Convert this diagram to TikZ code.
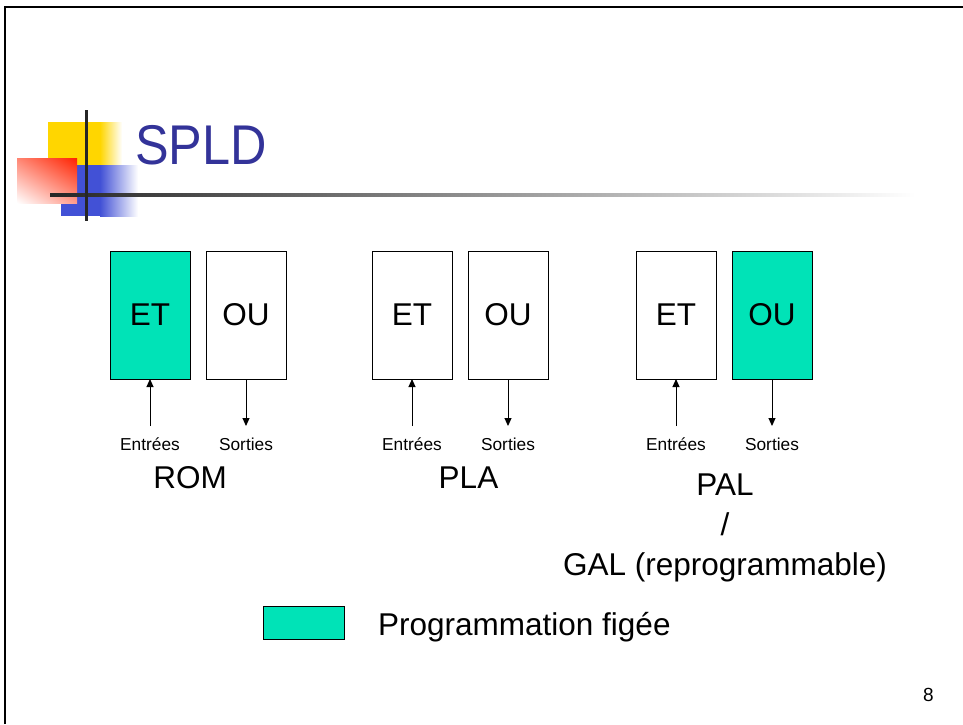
\documentclass[tikz,border=0pt]{standalone}
\usepackage{fontspec}
\setmainfont{Liberation Sans}
\usetikzlibrary{arrows.meta,shadings}

\definecolor{figee}{HTML}{00E3B7}
\definecolor{titleblue}{HTML}{333399}
\definecolor{logoyellow}{HTML}{FFD600}
\definecolor{logoblue}{HTML}{4251D6}
\definecolor{logored}{HTML}{FF2200}

\tikzset{
  gate/.style={draw, line width=1pt, minimum width=80pt, minimum height=128pt,
    inner sep=0pt, outer sep=0pt, font=\fontsize{31.5}{36}\selectfont},
  fixed/.style={gate, fill=figee},
  iolabel/.style={inner sep=0pt, anchor=base, font=\fontsize{17.3}{20}\selectfont},
  devlabel/.style={inner sep=0pt, anchor=base, font=\fontsize{31.5}{40}\selectfont},
  sig/.style={line width=1pt, -{Triangle[width=7pt,length=8pt]}},
}

\begin{document}
\begin{tikzpicture}[x=1pt,y=-1pt]
\useasboundingbox (0,0) rectangle (963,724);

% slide frame
\draw[line width=2.2pt] (5.2,724) -- (5.2,6.7) -- (963,6.7);

% title logo
\fill[logoyellow] (48,122) rectangle (100,167);
\shade[left color=logoyellow, right color=white] (100,122) rectangle (122,167);
\fill[logoblue] (61,165) rectangle (100,216);
\shade[left color=logoblue, right color=white] (100,165) rectangle (138,216);
\shade[upper right=logored, upper left=logored!55!white,
       lower right=logored!45!white, lower left=white] (17,158) rectangle (77,203);
\shade[left color=black!85, right color=white] (50,193.5) rectangle (915,196.5);
\fill[black!85] (84.5,110) rectangle (88,221);

% title
\node[inner sep=0pt, anchor=base west, text=titleblue, xscale=0.9,
      font=\fontsize{56}{60}\selectfont] (title) at (135,164) {SPLD};

% ROM
\node[fixed] (romET) at (150,315) {ET};
\node[gate]  (romOU) at (246,315) {OU};
\coordinate (romIn)  at (150,426);
\coordinate (romOut) at (246,426);
\draw[sig] (romIn) -- (romET.south);
\draw[sig] (romOU.south) -- (romOut);
\node[iolabel] (romInL)  at (150,450) {Entrées};
\node[iolabel] (romOutL) at (246,450) {Sorties};
\node[devlabel] (rom) at (190,488) {ROM};

% PLA
\node[gate] (plaET) at (412,315) {ET};
\node[gate] (plaOU) at (508,315) {OU};
\coordinate (plaIn)  at (412,426);
\coordinate (plaOut) at (508,426);
\draw[sig] (plaIn) -- (plaET.south);
\draw[sig] (plaOU.south) -- (plaOut);
\node[iolabel] (plaInL)  at (412,450) {Entrées};
\node[iolabel] (plaOutL) at (508,450) {Sorties};
\node[devlabel] (pla) at (468.5,488) {PLA};

% PAL / GAL
\node[gate]  (palET) at (676,315) {ET};
\node[fixed] (palOU) at (772,315) {OU};
\coordinate (palIn)  at (676,426);
\coordinate (palOut) at (772,426);
\draw[sig] (palIn) -- (palET.south);
\draw[sig] (palOU.south) -- (palOut);
\node[iolabel] (palInL)  at (676,450) {Entrées};
\node[iolabel] (palOutL) at (772,450) {Sorties};
\node[devlabel, align=center] (pal) at (725,575) {PAL\\/\\GAL (reprogrammable)};

% legend
\node[draw, fill=figee, line width=0.8pt, minimum width=81pt, minimum height=33pt,
      inner sep=0pt] (legendbox) at (303.5,622.5) {};
\node[devlabel, anchor=base west] (legendtext) at (378,635) {Programmation figée};

% page number
\node[inner sep=0pt, anchor=base, font=\fontsize{19}{22}\selectfont] (pageno) at (928.5,701.5) {8};
\end{tikzpicture}
\end{document}
